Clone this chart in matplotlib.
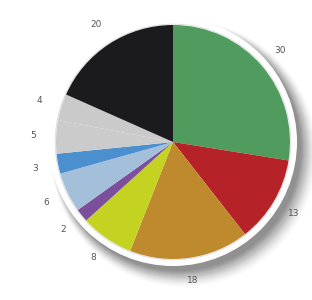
import matplotlib
matplotlib.use("Agg")
import matplotlib.pyplot as plt
from matplotlib.patches import Circle

values = [30, 13, 18, 8, 2, 6, 3, 5, 4, 20]
labels = ["30", "13", "18", "8", "2", "6", "3", "5", "4", "20"]
colors = ["#4f9c5e", "#b52228", "#bf8a2d", "#c4d222", "#7b4f9c",
          "#a3bfd9", "#4b8fcf", "#cbcbcb", "#cacaca", "#1b1b1d"]

W, H = 312, 300
fig = plt.figure(figsize=(W / 100, H / 100), dpi=100)
ax = fig.add_axes([0, 0, 1, 1])

cx, cy, r = 173, H - 142, 117

# soft drop shadow
for i in range(16):
    s = 1 - i / 16
    ax.add_patch(Circle((cx + 5 + i * 0.4, cy - 6 - i * 0.4), 123 + i * 0.7,
                        facecolor="#000000", alpha=0.05 * s + 0.006,
                        edgecolor="none", zorder=0))
# white ring
ax.add_patch(Circle((cx, cy), 124, facecolor="white", edgecolor="none",
                    zorder=1))
ax.add_patch(Circle((cx, cy), r + 0.8, facecolor="none", edgecolor="#d8d8d8",
                    linewidth=0.6, zorder=1.5))

wedges, texts = ax.pie(values, labels=labels, colors=colors, startangle=90,
                       counterclock=False, center=(cx, cy), radius=r,
                       labeldistance=1.2,
                       textprops=dict(color="#555555", fontsize=6.5,
                                      family="DejaVu Sans"),
                       wedgeprops=dict(linewidth=0, zorder=2))
for t in texts:
    t.set_ha("center")
    t.set_va("center")

ax.set_xlim(0, W)
ax.set_ylim(0, H)
ax.set_aspect("equal")
ax.axis("off")
fig.savefig("out.png", dpi=100)
